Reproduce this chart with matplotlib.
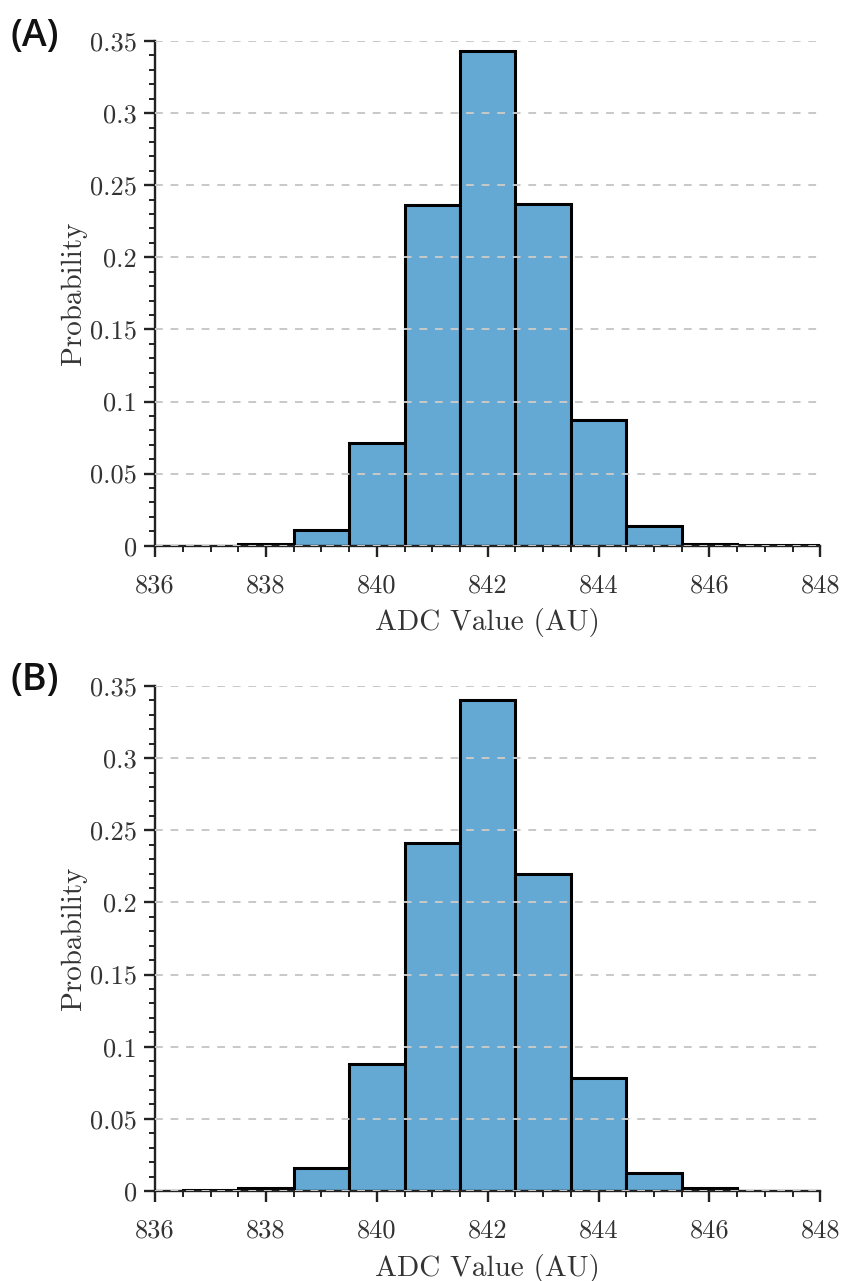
import numpy as np
import matplotlib.pyplot as plt
from matplotlib.ticker import MultipleLocator, FuncFormatter

# ADC histogram data (bin centres and probabilities)
adc_a = [838, 839, 840, 841, 842, 843, 844, 845, 846, 847, 848]
prob_a = [0.0015, 0.011, 0.071, 0.236, 0.343, 0.237, 0.087, 0.014, 0.0015, 0.0006, 0.0004]

adc_b = [837, 838, 839, 840, 841, 842, 843, 844, 845, 846]
prob_b = [0.0005, 0.002, 0.016, 0.088, 0.241, 0.340, 0.220, 0.078, 0.0125, 0.0018]

y_ticks = [0, 0.05, 0.1, 0.15, 0.2, 0.25, 0.3, 0.35]
x_ticks = [836, 838, 840, 842, 844, 846, 848]

plt.rcParams['font.family'] = 'cmr10'
plt.rcParams['mathtext.fontset'] = 'cm'
plt.rcParams['axes.formatter.use_mathtext'] = True

bar_color = '#64a9d3'
text_color = '#333333'

fig = plt.figure(figsize=(8.43, 12.81), dpi=100)


def draw_hist(ax, x, p):
    ax.bar(x, p, width=1.0, color=bar_color, edgecolor='black', linewidth=2.2, zorder=2)
    ax.set_xlim(836, 848)
    ax.set_ylim(0, 0.35)
    ax.set_yticks(y_ticks)
    ax.set_xticks(x_ticks)
    ax.yaxis.set_major_formatter(FuncFormatter(lambda v, pos: f"{v:g}"))
    ax.xaxis.set_major_formatter(FuncFormatter(lambda v, pos: f"{v:g}"))
    ax.yaxis.set_minor_locator(MultipleLocator(0.01))
    ax.xaxis.set_minor_locator(MultipleLocator(0.5))
    for s in ['top', 'right']:
        ax.spines[s].set_visible(False)
    for s in ['left', 'bottom']:
        ax.spines[s].set_linewidth(1.7)
        ax.spines[s].set_color('#222222')
    ax.tick_params(which='major', direction='out', length=8, width=1.7,
                   labelsize=19, colors='#222222', labelcolor=text_color, pad=5)
    ax.tick_params(axis='x', which='major', pad=12)
    ax.tick_params(which='minor', direction='out', length=4.5, width=1.4, colors='#222222')
    ax.yaxis.grid(True, linestyle=(0, (4, 4)), color='#c8c8c8', linewidth=1.4, zorder=3)
    ax.set_axisbelow(False)
    for ln in ax.get_ygridlines():
        ln.set_zorder(3)
    ax.set_xlabel('ADC Value (AU)', fontsize=21, color=text_color, labelpad=8)
    ax.set_ylabel('Probability', fontsize=21, color=text_color, labelpad=2)


ax_a = fig.add_axes([0.184, 0.574, 0.789, 0.394])
draw_hist(ax_a, adc_a, prob_a)
ax_b = fig.add_axes([0.184, 0.0703, 0.789, 0.3942])
draw_hist(ax_b, adc_b, prob_b)

fig.text(0.013, 0.972, '(A)', fontsize=27, fontweight='semibold',
         family=['Open Sans', 'DejaVu Sans'], color='#111111', va='center')
fig.text(0.013, 0.469, '(B)', fontsize=27, fontweight='semibold',
         family=['Open Sans', 'DejaVu Sans'], color='#111111', va='center')

fig.savefig('out.png', dpi=100)
